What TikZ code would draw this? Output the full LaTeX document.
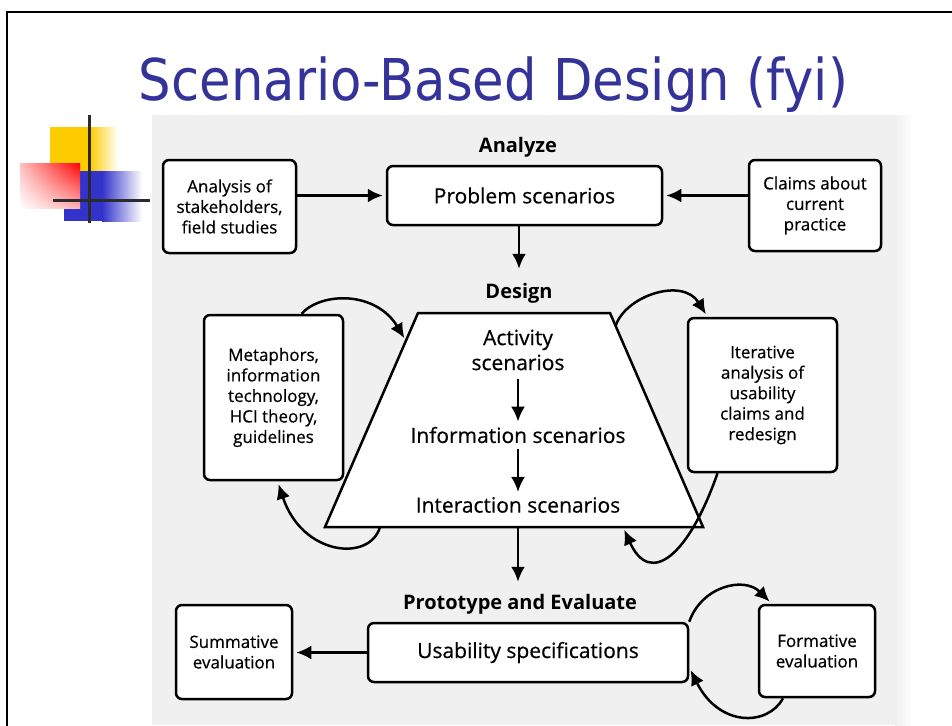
\documentclass[tikz,border=0pt]{standalone}
\usepackage{fontspec}
\setmainfont{Open Sans}
\newfontfamily\boxfont{Open Sans}[FakeBold=0.5]
\newfontfamily\titlefont[FakeStretch=0.89]{DejaVu Sans}
\usepackage{tikz}
\usetikzlibrary{arrows.meta,shadings,calc}
\definecolor{titleblue}{HTML}{333399}
\definecolor{scangray}{HTML}{F0F0F0}
\definecolor{logoyellow}{HTML}{FFCC00}
\definecolor{logoblue}{HTML}{3333CC}
\definecolor{crossgray}{HTML}{2B2B2B}

\begin{document}
\begin{tikzpicture}[x=1pt,y=-1pt,->,>={Latex[length=15pt,width=14pt]},shorten >=3pt,line width=2.5pt,
	box/.style={draw,rounded corners=6pt,fill=white,align=center,inner sep=0pt,font=\boxfont\fontsize{17}{20.5}\selectfont},
	scen/.style={align=center,inner sep=1pt,font=\boxfont\fontsize{21}{25}\selectfont},
	phase/.style={inner sep=1pt,font=\bfseries\fontsize{20}{24}\selectfont}]
	\useasboundingbox (0,0) rectangle (952,725);
	\draw[-,line width=2pt] (960,12) -- (7,12) -- (7,735);
	\fill[scangray] (152,115) rectangle (895,725);
	\shade[left color=scangray,right color=white,draw=none] (895,115) rectangle (912,725);

	\fill[logoyellow] (50,127) rectangle (90,171);
	\shade[left color=logoyellow,right color=white] (90,127) rectangle (118,171);
	\fill[logoblue] (64,171) rectangle (102,221);
	\shade[left color=logoblue,right color=white] (102,171) rectangle (142,221);
	\shade[upper left=red!25,upper right=red,lower left=white,lower right=red!30] (20,163) rectangle (80,208);
	\draw[-,crossgray,line width=3pt] (89,115) -- (89,226);
	\draw[-,crossgray,line width=3pt] (53,200) -- (153,200);

	\node[anchor=base,inner sep=0pt,text=titleblue,font=\titlefont\fontsize{57.6}{60}\selectfont] (title) at (493.5,100) {Scenario-Based Design (fyi)};

	\node[phase] (analyze) at (518,147) {Analyze};
	\node[box,minimum width=275pt,minimum height=59pt,font=\boxfont\fontsize{21}{25}\selectfont] (prob) at (524.5,195.5) {Problem scenarios};
	\node[box,minimum width=133pt,minimum height=93pt] (stake) at (229.5,206.5) {Analysis of\\stakeholders,\\field studies};
	\node[box,minimum width=132pt,minimum height=91pt] (claims) at (815,205.5) {Claims about\\current\\practice};

	\node[phase] (design) at (519,293) {Design};
	\coordinate (trapTL) at (418,313);
	\coordinate (trapTR) at (610,313);
	\coordinate (trapBR) at (703,527);
	\coordinate (trapBL) at (325,527);
	\draw[-,fill=white] (trapTL) -- (trapTR) -- (trapBR) -- (trapBL) -- cycle;
	\node[scen] (act) at (518,350) {Activity\\scenarios};
	\node[scen] (info) at (518,435) {Information scenarios};
	\node[scen] (inter) at (518,505) {Interaction scenarios};
	\node[box,minimum width=139pt,minimum height=165pt] (meta) at (273.5,397.5) {Metaphors,\\information\\technology,\\HCI theory,\\guidelines};
	\node[box,minimum width=149pt,minimum height=154pt] (iter) at (762.5,395) {Iterative\\analysis of\\usability\\claims and\\redesign};

	\node[phase] (proto) at (520,604) {Prototype and Evaluate};
	\node[box,minimum width=320pt,minimum height=59pt,font=\boxfont\fontsize{21}{25}\selectfont] (usab) at (528,652.5) {Usability specifications};
	\node[box,minimum width=116pt,minimum height=94pt] (summ) at (234,652) {Summative\\evaluation};
	\node[box,minimum width=116pt,minimum height=92pt] (form) at (817,651) {Formative\\evaluation};

	\draw 	(stake.east |- prob.west) -- (prob.west);
	\draw 	(claims.west |- prob.east) -- (prob.east);
	\draw[shorten >=12pt] (prob.south -| design.north) -- (design.north);
	\draw[shorten <=6pt] (act.south) -- (info.north);
	\draw[shorten <=4pt] (info.south) -- (inter.north);
	\draw[shorten >=10pt] (inter |- trapBL) -- (inter |- proto.north);
	\draw 	(usab.west) -- (summ.east |- usab.west);

	\draw 	([xshift=28pt]meta.north) .. controls +(20,-22) and +(-30,-50) .. ($(trapTL)!0.13!(trapBL)$);
	\draw 	([xshift=55pt]trapBL) .. controls +(-10,35) and +(25,75) .. ([xshift=4pt]meta.south);
	\draw 	($(trapTR)!0.06!(trapBR)$) .. controls +(10,-30) and +(-25,-40) .. ([xshift=-55pt]iter.north);
	\draw 	([xshift=-45pt]iter.south) .. controls +(-29,83) and +(27,60) .. ([xshift=-80pt]trapBR);
	\draw 	(usab.north east) .. controls +(12,-35) and +(-28,-28) .. ([xshift=14pt]form.north west);
	\draw 	([xshift=-34pt]form.south) .. controls +(-15,28) and +(30,60) .. ([yshift=-15pt]usab.east);
\end{tikzpicture}
\end{document}
